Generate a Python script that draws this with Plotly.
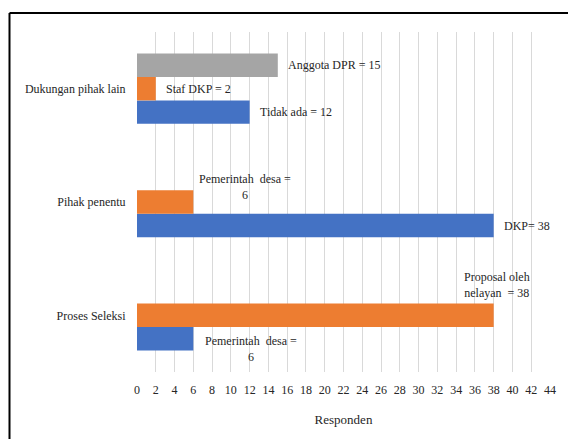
import plotly.graph_objects as go

# Categories listed bottom-to-top
categories = ["Proses Seleksi", "Pihak penentu", "Dukungan pihak lain"]

# Respondent counts per series (None where the series has no bar)
tidak_ada_dkp = [6, 38, 12]          # blue series
proposal_staf = [38, 6, 2]           # orange series
anggota_dpr = [None, None, 15]       # gray series

# Data labels per series
labels_blue = ["Pemerintah  desa =<br>6", "DKP= 38", "Tidak ada = 12"]
labels_orange = ["Proposal oleh<br>nelayan  = 38", "Pemerintah  desa =<br>6", "Staf DKP = 2"]
labels_gray = [None, None, "Anggota DPR = 15"]

x_ticks = list(range(0, 46, 2))

BLUE, ORANGE, GRAY = "#4472C4", "#ED7D31", "#A5A5A5"
FONT = "'Liberation Serif', 'DejaVu Serif', serif"
TXT = "#262626"

W, H = 568, 439
ML, MR, MT, MB = 137, 18, 32, 67

fig = go.Figure()
series = [(tidak_ada_dkp, BLUE, labels_blue),
          (proposal_staf, ORANGE, labels_orange),
          (anggota_dpr, GRAY, labels_gray)]
for vals, col, _ in series:
    fig.add_trace(go.Bar(y=categories, x=vals, orientation="h",
                         marker=dict(color=col, line=dict(width=0)),
                         showlegend=False, hoverinfo="skip"))

# label placement styles: (series index, category index) -> (xanchor, yanchor, xshift, yshift)
bar_px = 23.5
slot_shift = [-bar_px, 0, bar_px]
special = {
    (1, 1): ("left", "middle", 4, 15),
    (1, 0): ("center", "bottom", 3, None),
    (0, 0): ("left", "middle", 10, -10),
}
for si, (vals, col, labs) in enumerate(series):
    for ci, (v, t) in enumerate(zip(vals, labs)):
        if v is None or t is None:
            continue
        xa, ya, xs, ys = special.get((si, ci), ("left", "middle", 8, 0))
        if ys is None:
            ys = slot_shift[si] + bar_px / 2 + 2
        else:
            ys = slot_shift[si] + ys
        fig.add_annotation(x=v, y=ci, xref="x", yref="y", text=t,
                           showarrow=False, xanchor=xa, yanchor=ya,
                           xshift=xs, yshift=ys, align="center",
                           font=dict(family=FONT, size=12, color=TXT))

# frame around the chart (top and left edges)
pw, ph = W - ML - MR, H - MT - MB
fx0 = (9.5 - ML) / pw
fy0 = (H - MB - 13) / ph
fig.add_shape(type="line", xref="paper", yref="paper",
              x0=fx0, x1=(W + 5 - ML) / pw, y0=fy0, y1=fy0,
              line=dict(color="#000000", width=2))
fig.add_shape(type="line", xref="paper", yref="paper",
              x0=fx0, x1=fx0, y0=fy0, y1=-(MB + 5) / ph,
              line=dict(color="#000000", width=2))

fig.update_layout(
    width=W, height=H,
    margin=dict(l=ML, r=MR, t=MT, b=MB),
    paper_bgcolor="white", plot_bgcolor="white",
    barmode="group", bargap=0.38, bargroupgap=0,
    font=dict(family=FONT, size=12, color=TXT),
    xaxis=dict(range=[0, 44], tickvals=x_ticks, showgrid=True,
               gridcolor="#D9D9D9", gridwidth=1, zeroline=False,
               showline=False, ticks="outside", ticklen=7,
               tickcolor="rgba(0,0,0,0)",
               tickfont=dict(family=FONT, size=12, color=TXT),
               title=dict(text="Responden", standoff=18,
                          font=dict(family=FONT, size=13, color=TXT))),
    yaxis=dict(showgrid=False, zeroline=False, showline=False,
               ticks="outside", ticklen=8, tickcolor="rgba(0,0,0,0)",
               tickfont=dict(family=FONT, size=12, color=TXT)),
)

fig.write_html("out.html")
